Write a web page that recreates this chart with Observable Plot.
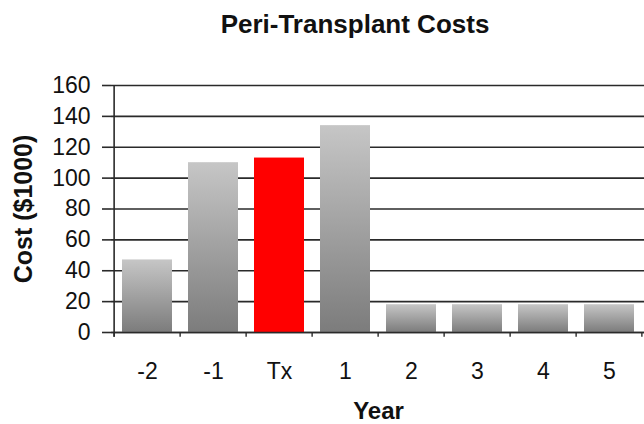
<!DOCTYPE html>
<html>
<head>
<meta charset="utf-8">
<script src="https://cdn.jsdelivr.net/npm/d3@7"></script>
<script src="https://cdn.jsdelivr.net/npm/@observablehq/plot@0.6"></script>
<style>
  body { margin: 0; background: #fff; font-family: "Liberation Sans", Arial, sans-serif; }
  #title { width: 644px; height: 50px; line-height: 48px; padding-left: 66px; box-sizing: border-box;
           text-align: center; font-weight: bold; font-size: 26px; color: #111; white-space: nowrap; }
</style>
</head>
<body>
<div id="title"></div>
<div id="chart"></div>
<script>
const chartTitle = "Peri-Transplant Costs";
const years = ["-2", "-1", "Tx", "1", "2", "3", "4", "5"];
const costs = [47, 110, 113, 134, 18, 18, 18, 18];
const highlight = "Tx";
const yTicks = [0, 20, 40, 60, 80, 100, 120, 140, 160];
const xLabel = "Year";
const yLabel = "Cost ($1000)";

document.getElementById("title").textContent = chartTitle;

const data = years.map((y, i) => ({year: y, cost: costs[i]}));
const width = 644, height = 374;
const mL = 111, mR = -1, mT = 35, mB = 92;
const step = (width - mL - mR) / years.length;
const ink = "#2a2a2a";

const plot = Plot.plot({
  width, height,
  marginLeft: mL, marginRight: mR, marginTop: mT, marginBottom: mB,
  style: {fontFamily: "'Liberation Sans', Arial, sans-serif", fontSize: "23px", color: "#111", background: "#fff", overflow: "visible"},
  x: {domain: years, padding: 0, label: null},
  y: {domain: [0, 160], label: null},
  marks: [
    Plot.ruleY(yTicks, {stroke: ink, strokeWidth: 1.6}),
    Plot.barY(data.filter(d => d.year !== highlight), {x: "year", y: "cost", fill: "url(#barGrad)", insetLeft: 8, insetRight: 8}),
    Plot.barY(data.filter(d => d.year === highlight), {x: "year", y: "cost", fill: "#ff0000", insetLeft: 8, insetRight: 8}),
    // x baseline
    Plot.ruleY([0], {stroke: ink, strokeWidth: 1.6}),
    // y axis line
    Plot.ruleX([years[0]], {y1: -3, y2: 160, dx: -step / 2, stroke: ink, strokeWidth: 1.6}),
    // category boundary ticks
    Plot.ruleX(years, {y1: -3, y2: 0, dx: -step / 2, stroke: ink, strokeWidth: 1.4}),
    Plot.ruleX([years[years.length - 1]], {y1: -3, y2: 0, dx: step / 2 - 1, stroke: ink, strokeWidth: 1.4}),
    Plot.axisY({ticks: yTicks, tickSize: 9, tickPadding: 12, stroke: ink, strokeWidth: 1.6, label: null, fontSize: 23}),
    Plot.axisX({tickSize: 0, tickPadding: 30, label: null, fontSize: 23}),
    Plot.text([yLabel], {text: d => d, frameAnchor: "left", textAnchor: "middle", dx: -88, rotate: -90, fontWeight: "bold", fontSize: 25}),
    Plot.text([xLabel], {text: d => d, frameAnchor: "bottom", dy: 86, fontWeight: "bold", fontSize: 24})
  ]
});

const svgNS = "http://www.w3.org/2000/svg";
const defs = document.createElementNS(svgNS, "defs");
defs.innerHTML = '<linearGradient id="barGrad" x1="0" y1="0" x2="0" y2="1">' +
  '<stop offset="0" stop-color="#c6c6c6"/><stop offset="1" stop-color="#7c7c7c"/></linearGradient>';
plot.insertBefore(defs, plot.firstChild);
document.getElementById("chart").appendChild(plot);
</script>
</body>
</html>
